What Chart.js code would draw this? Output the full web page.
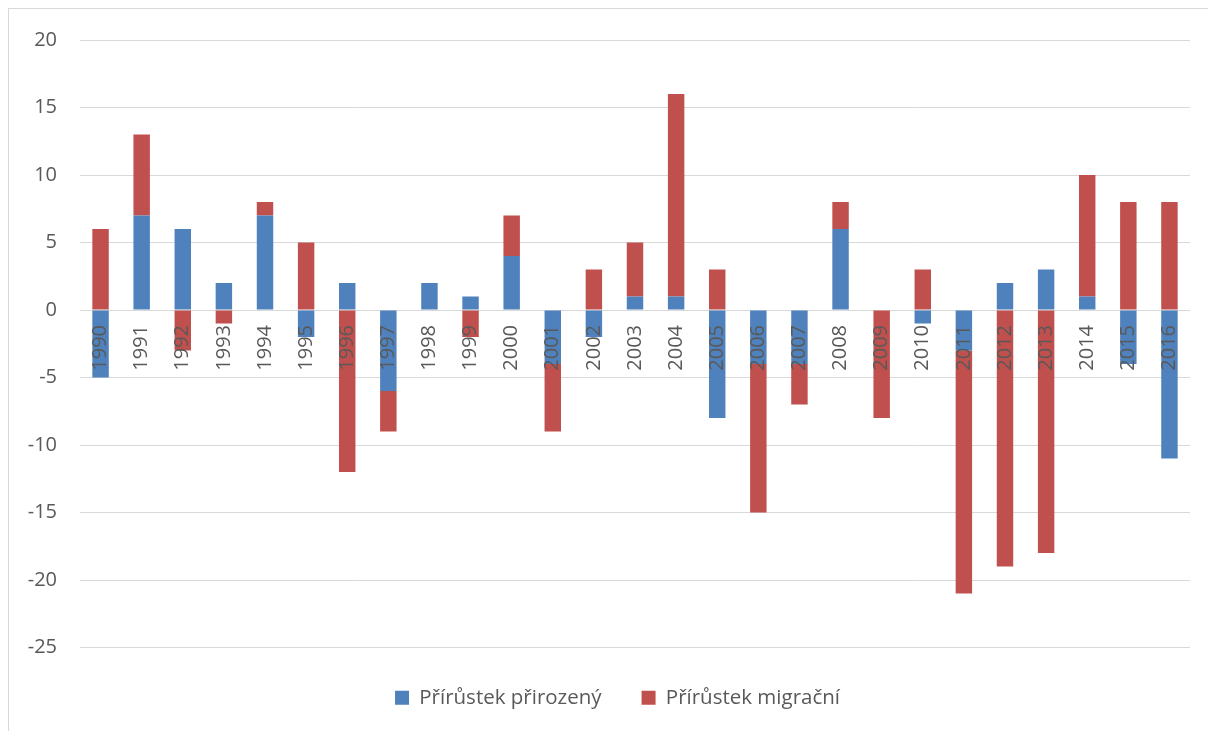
<!DOCTYPE html>
<html>
<head>
<meta charset="utf-8">
<script src="https://cdn.jsdelivr.net/npm/chart.js@4/dist/chart.umd.min.js"></script>
<style>
   html, body { margin: 0; padding: 0; background: #ffffff; overflow: hidden; }
   #ramecek {
      position: absolute; left: 8px; top: 8px;
      width: 1218px; height: 738px;
      border-left: 1px solid #d9d9d9; border-top: 1px solid #d9d9d9;
   }
   #graf { display: block; }
</style>
</head>
<body>
<div id="ramecek">
   <canvas id="graf" width="1218" height="738"></canvas>
</div>
<script>
// Data pro graf
const roky = ['1990', '1991', '1992', '1993', '1994', '1995', '1996', '1997', '1998', '1999',
   '2000', '2001', '2002', '2003', '2004', '2005', '2006', '2007', '2008', '2009',
   '2010', '2011', '2012', '2013', '2014', '2015', '2016'];
const prirozeny = [-5, 7, 6, 2, 7, -2, 2, -6, 2, 1, 4, -4, -2, 1, 1, -8, -4, -4, 6, 0, -1, -3, 2, 3, 1, -4, -11];
const migracni = [6, 6, -3, -1, 1, 5, -12, -3, 0, -2, 3, -5, 3, 4, 15, 3, -11, -3, 2, -8, 3, -18, -19, -18, 9, 8, 8];
const osaY = { min: -25, max: 20, krok: 5 };

const modra = '#4f81bd';
const cervena = '#c0504d';
const seda = '#595959';
const mrizka = '#d9d9d9';
const pismo = "'Open Sans', 'DejaVu Sans', sans-serif";

// legenda je v originale vycentrovana na sirsi graf, posuneme ji doprava
const posunLegendy = {
   id: 'posunLegendy',
   afterLayout(chart) {
      chart.legend.left += 36;
   }
};

const ctx = document.getElementById('graf').getContext('2d');
const graf = new Chart(ctx, {
   type: 'bar',
   data: {
      labels: roky,
      datasets: [
         {
            label: 'Přírůstek přirozený',
            data: prirozeny,
            backgroundColor: modra,
            barPercentage: 0.4,
            categoryPercentage: 1
         },
         {
            label: 'Přírůstek migrační',
            data: migracni,
            backgroundColor: cervena,
            barPercentage: 0.4,
            categoryPercentage: 1
         }
      ]
   },
   plugins: [posunLegendy],
   options: {
      responsive: false,
      animation: false,
      layout: { padding: { left: 0, right: 37, top: 31, bottom: 29 } },
      plugins: {
         tooltip: { enabled: false },
         legend: {
            position: 'bottom',
            labels: {
               color: seda,
               font: { family: pismo, size: 20.5 },
               boxWidth: 14,
               boxHeight: 14,
               padding: 40
            }
         }
      },
      scales: {
         x: {
            stacked: true,
            position: { y: 0 },
            grid: { display: false, drawTicks: false },
            border: { display: false },
            ticks: {
               color: seda,
               font: { family: pismo, size: 20 },
               minRotation: 90,
               maxRotation: 90,
               autoSkip: false,
               padding: 15,
               z: 1
            }
         },
         y: {
            stacked: true,
            min: osaY.min,
            max: osaY.max,
            grid: { color: mrizka, lineWidth: 1, drawTicks: false },
            border: { display: false },
            ticks: {
               stepSize: osaY.krok,
               color: seda,
               font: { family: pismo, size: 20 },
               padding: 23
            },
            afterFit: (scale) => {
               scale.width = 71;
               // okraj nad a pod osou urcuje jen layout.padding
               scale.paddingTop = 0;
               scale.paddingBottom = 0;
            }
         }
      }
   }
});
</script>
</body>
</html>
